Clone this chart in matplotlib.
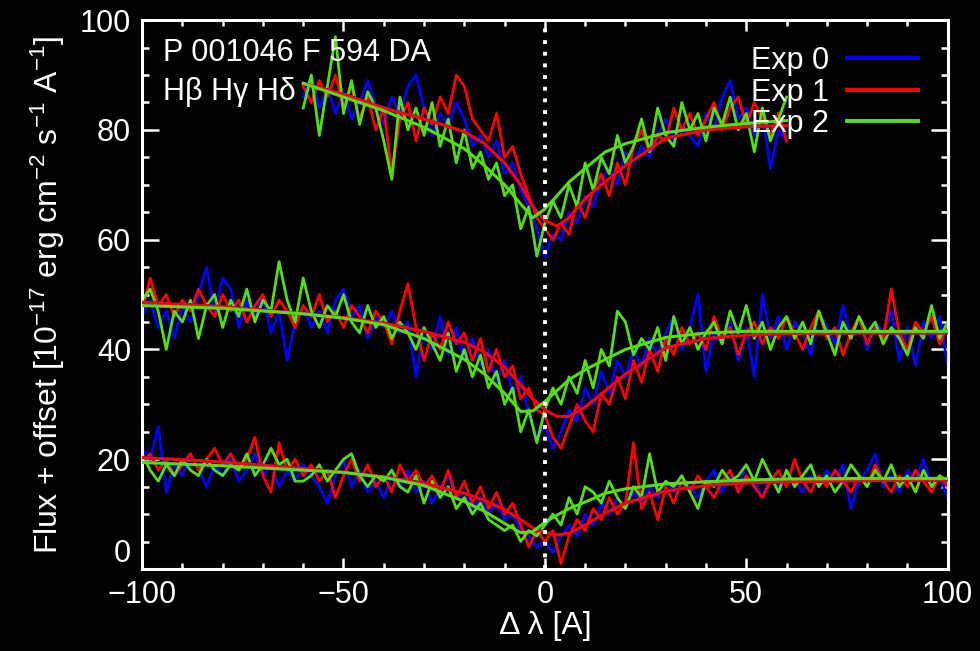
import numpy as np
import matplotlib
matplotlib.use("Agg")
import matplotlib.pyplot as plt
from matplotlib.lines import Line2D
from matplotlib.ticker import MultipleLocator

plt.rcParams['font.family'] = ['Liberation Sans', 'DejaVu Sans']
plt.rcParams['mathtext.fontset'] = 'custom'
plt.rcParams['mathtext.rm'] = 'Liberation Sans'
plt.rcParams['mathtext.it'] = 'Liberation Sans'

# exposure colours
BLUE = '#0000ff'
RED = '#ff0000'
GREEN = '#55dd15'

# ---- upper profile (-60..60 A) ----
top_blue = [86, 90, 84, 88, 83, 87, 82, 85, 89, 84, 81, 86, 83, 88, 90, 84, 79, 83, 81, 85,
            82, 77, 79, 75, 78, 72, 74, 69, 66, 62, 57, 61, 60, 65, 63, 68, 66, 71, 73, 70,
            76, 74, 77, 75, 79, 82, 78, 81, 79, 77, 83, 80, 86, 89, 82, 84, 79, 83, 73, 80, 78]
top_red = [88, 85, 89, 86, 90, 84, 88, 82, 86, 80, 84, 72, 82, 85, 78, 84, 81, 86, 83, 90,
           88, 82, 80, 78, 83, 75, 77, 72, 68, 64, 62, 60, 63, 61, 67, 64, 69, 72, 68, 74,
           70, 77, 80, 76, 79, 78, 84, 80, 83, 79, 82, 85, 80, 84, 86, 81, 85, 82, 79, 83, 78]
top_green = [84, 90, 79, 88, 97, 83, 89, 81, 87, 84, 78, 71, 86, 80, 84, 79, 85, 77, 82, 74,
             80, 73, 76, 71, 74, 68, 70, 62, 66, 57, 63, 67, 64, 70, 66, 74, 69, 75, 72, 79,
             74, 77, 82, 76, 84, 79, 77, 85, 80, 83, 78, 84, 81, 86, 80, 83, 76, 84, 78, 82, 86]

# ---- middle profile (-100..100 A) ----
mid_blue = [46, 49, 44, 47, 42, 48, 45, 50, 55, 47, 53, 51, 44, 49, 46, 50, 43, 47, 38, 45,
            48, 44, 47, 43, 49, 51, 46, 48, 42, 46, 44, 47, 43, 45, 35, 44, 40, 46, 39, 44,
            38, 42, 37, 40, 34, 38, 32, 35, 28, 24, 26, 22, 25, 29, 27, 33, 30, 36, 32, 38,
            35, 40, 37, 42, 39, 43, 46, 40, 44, 50, 36, 43, 41, 45, 38, 44, 35, 50, 42, 46,
            40, 45, 43, 39, 47, 44, 41, 48, 42, 46, 40, 45, 43, 47, 38, 44, 37, 45, 42, 46, 37]
mid_red = [47, 53, 48, 50, 46, 49, 47, 51, 48, 46, 50, 47, 49, 45, 48, 50, 46, 49, 47, 44,
           48, 46, 50, 45, 47, 44, 48, 46, 43, 47, 45, 41, 47, 52, 44, 38, 43, 40, 45, 41,
           43, 38, 42, 36, 40, 35, 37, 31, 33, 29, 28, 24, 22, 26, 30, 27, 25, 32, 30, 35,
           31, 38, 34, 40, 36, 42, 39, 44, 41, 43, 40, 46, 42, 44, 39, 43, 45, 41, 44, 42,
           46, 43, 40, 44, 47, 42, 44, 39, 43, 46, 41, 44, 42, 51, 43, 40, 45, 43, 46, 41, 44]
mid_green = [49, 51, 47, 40, 47, 45, 49, 42, 48, 50, 44, 49, 46, 51, 45, 49, 47, 56, 49, 45,
             53, 47, 44, 48, 46, 50, 45, 43, 48, 44, 46, 42, 45, 43, 40, 44, 41, 38, 43, 36,
             40, 35, 39, 33, 36, 30, 33, 25, 29, 23, 29, 33, 30, 35, 32, 38, 33, 40, 37, 47,
             45, 39, 42, 40, 44, 38, 46, 41, 44, 40, 43, 45, 41, 47, 43, 48, 42, 45, 40, 44,
             46, 42, 45, 41, 47, 43, 39, 45, 42, 46, 43, 45, 41, 44, 42, 39, 44, 42, 48, 42, 45]

# ---- lower profile (-100..100 A) ----
low_blue = [22, 20, 26, 14, 19, 17, 21, 18, 15, 19, 17, 20, 16, 18, 21, 17, 19, 15, 18, 16,
            19, 17, 15, 12, 17, 20, 15, 18, 14, 16, 13, 17, 15, 18, 14, 16, 12, 15, 17, 13,
            14, 11, 13, 10, 12, 9, 10, 7, 6, 4, 5, 3, 6, 8, 6, 10, 8, 12, 10, 13,
            11, 14, 12, 15, 13, 16, 14, 17, 15, 13, 16, 18, 14, 17, 15, 19, 16, 13, 17, 15,
            18, 16, 14, 17, 15, 18, 16, 19, 11, 16, 18, 21, 15, 17, 14, 18, 16, 20, 15, 17, 13]
low_red = [19, 21, 18, 20, 17, 19, 21, 18, 20, 22, 19, 21, 18, 20, 24, 17, 14, 23, 18, 20,
           17, 19, 16, 18, 13, 17, 20, 16, 19, 15, 17, 14, 19, 16, 18, 15, 17, 14, 18, 13,
           16, 12, 15, 11, 14, 10, 12, 8, 4, 7, 5, 7, 1, 6, 9, 7, 11, 9, 13, 10,
           12, 23, 11, 14, 9, 15, 12, 16, 14, 17, 15, 13, 16, 18, 14, 17, 15, 13, 16, 18,
           15, 20, 16, 14, 17, 15, 18, 16, 14, 17, 15, 19, 16, 14, 17, 15, 18, 16, 14, 17, 15]
low_green = [21, 18, 16, 19, 17, 20, 18, 17, 20, 18, 17, 19, 18, 21, 17, 19, 22, 19, 20, 16,
             16, 17, 19, 16, 18, 20, 21, 17, 15, 17, 16, 18, 15, 14, 17, 12, 16, 13, 15, 11,
             13, 10, 12, 9, 8, 7, 8, 5, 7, 6, 8, 10, 8, 13, 10, 15, 14, 12, 16, 13,
             11, 15, 13, 21, 14, 16, 15, 17, 14, 11, 16, 15, 18, 16, 17, 19, 16, 20, 17, 14,
             18, 15, 17, 19, 15, 17, 14, 16, 19, 17, 15, 18, 16, 19, 15, 17, 14, 18, 15, 17, 16]

# ---- model fits (sampled at fit_x nodes) ----
top_fit_x = [-60, -50, -40, -30, -20, -15, -10, -6, -3, 0, 3, 6, 10, 15, 20, 30, 40, 50, 60]
top_fit_red = [88.5, 86.5, 84, 82, 79.7, 77.5, 74, 70, 66, 63.5, 62.5, 64, 67.5, 70.6, 73.5,
               78.5, 80, 80.6, 80.8]
top_fit_green = [88.5, 86, 83.5, 80.5, 76.6, 73.5, 70, 66.5, 64, 65.6, 68, 70.5, 73, 76, 77.5,
                 79.5, 80.5, 81.2, 81.7]

fit_x = [-100, -80, -60, -50, -40, -30, -20, -15, -10, -6, -3, 0, 3, 6, 10, 15, 20, 30, 40,
         50, 60, 80, 100]
mid_fit_red = [48.6, 47.8, 46.5, 45.8, 44.8, 43.3, 41.3, 39.5, 36.8, 33.5, 31, 29, 27.8, 27.8,
               29.5, 32.5, 35.5, 40.3, 42, 42.6, 42.9, 43, 43]
mid_fit_green = [48, 47.5, 46.5, 45.7, 44.5, 42, 38.2, 35.5, 32, 28.7, 28.8, 30.5, 32.5, 34.5,
                 36.3, 38.2, 40, 42.2, 43, 43.3, 43.3, 43.3, 43.3]
low_fit_red = [20.3, 19.5, 18.3, 17.6, 16.8, 15.6, 13.8, 12.5, 10.8, 9, 7.5, 6.6, 6.2, 6.5, 8,
               10.2, 12, 14.2, 15.2, 15.7, 15.9, 16.1, 16.2]
low_fit_green = [19.4, 18.8, 18, 17.6, 16.7, 15.2, 12.3, 10.5, 8.3, 6.6, 6.8, 8.5, 9.8, 11, 12.2,
                 13.8, 14.6, 15.5, 15.9, 16.2, 16.4, 16.5, 16.5]

exp_labels = ['Exp 0', 'Exp 1', 'Exp 2']
FS = 22

fig = plt.figure(figsize=(9.8, 6.51), dpi=100, facecolor='black')
ax = fig.add_axes([0.145, 0.126, 0.822, 0.843])
ax.set_facecolor('black')

groups = [
    (-60, 60, [top_blue, top_red, top_green], top_fit_x, [top_fit_red, top_fit_red, top_fit_green]),
    (-100, 100, [mid_blue, mid_red, mid_green], fit_x, [mid_fit_red, mid_fit_red, mid_fit_green]),
    (-100, 100, [low_blue, low_red, low_green], fit_x, [low_fit_red, low_fit_red, low_fit_green]),
]
colors = [BLUE, RED, GREEN]
for lo, hi, spectra, fx, fits in groups:
    for y, c in zip(spectra, colors):
        x = np.linspace(lo, hi, len(y))
        ax.plot(x, y, color=c, lw=2.0, zorder=2)
    for y, c in zip(fits, colors):
        ax.plot(fx, y, color=c, lw=2.2, zorder=3)

ax.axvline(0, color='white', lw=2.8, linestyle=(0, (1, 2.0)), zorder=4)

ax.set_xlim(-100, 100)
ax.set_ylim(0, 100)
ax.xaxis.set_major_locator(MultipleLocator(50))
ax.xaxis.set_minor_locator(MultipleLocator(10))
ax.yaxis.set_major_locator(MultipleLocator(20))
ax.yaxis.set_minor_locator(MultipleLocator(5))
ax.tick_params(which='both', direction='in', top=True, right=True, colors='white',
               labelsize=FS, width=1.8, pad=8)
ax.tick_params(axis='y', which='major', length=12)
ax.tick_params(axis='y', which='minor', length=5)
ax.tick_params(axis='x', which='major', length=8)
ax.tick_params(axis='x', which='minor', length=4)
for s in ax.spines.values():
    s.set_color('white')
    s.set_linewidth(2.2)

# the zero label sits above its tick, as in the original
fig.canvas.draw()
for lab in ax.get_yticklabels():
    if lab.get_text() == '0':
        lab.set_va('bottom')

ax.set_xlabel('Δ λ [A]', color='white', fontsize=FS + 1, labelpad=1)
ax.set_ylabel(r'Flux + offset [10$^{-17}$ erg cm$^{-2}$ s$^{-1}$ A$^{-1}$]',
              color='white', fontsize=FS + 1, labelpad=9)

ax.text(0.026, 0.968, 'P 001046 F 594 DA', transform=ax.transAxes, color='white',
        fontsize=FS, va='top', ha='left')
ax.text(0.026, 0.897, 'Hβ Hγ Hδ', transform=ax.transAxes, color='white',
        fontsize=FS, va='top', ha='left')

handles = [Line2D([], [], color=c, lw=2.8) for c in colors]
leg = ax.legend(handles, exp_labels, loc='upper right', frameon=False, markerfirst=False,
                fontsize=FS, labelcolor='white', handlelength=2.3, labelspacing=0.05,
                borderaxespad=0.0, handletextpad=0.6, bbox_to_anchor=(0.978, 0.975))

fig.savefig('out.png', dpi=100, facecolor='black')
